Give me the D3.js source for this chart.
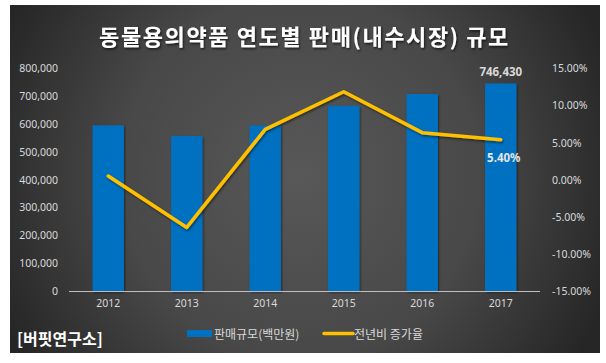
<!DOCTYPE html>
<html><head><meta charset="utf-8">
<script src="https://cdn.jsdelivr.net/npm/d3@7"></script>
<style>
html,body{margin:0;padding:0;background:#fff;}
svg{display:block;}
</style></head>
<body>
<script>
const years = ["2012","2013","2014","2015","2016","2017"];
const sales = [595650, 557350, 595250, 665900, 708190, 746430];
const growth = [0.5, -6.43, 6.8, 11.87, 6.35, 5.40];
const leftTicks = [0,100000,200000,300000,400000,500000,600000,700000,800000];
const rightTicks = [-15,-10,-5,0,5,10,15];
const title = "동물용의약품 연도별 판매(내수시장) 규모";
const seriesNames = ["판매규모(백만원)", "전년비 증가율"];
const source = "[버핏연구소]";

const W = 606, H = 363;
const svg = d3.select("body").append("svg").attr("width", W).attr("height", H);
const defs = svg.append("defs");
const rg = defs.append("radialGradient").attr("id","bg").attr("gradientUnits","userSpaceOnUse")
  .attr("cx",300).attr("cy",175).attr("r",330);
rg.append("stop").attr("offset","0%").attr("stop-color","#585858");
rg.append("stop").attr("offset","55%").attr("stop-color","#484848");
rg.append("stop").attr("offset","100%").attr("stop-color","#262626");
const f = defs.append("filter").attr("id","sh").attr("x","-20%").attr("y","-20%").attr("width","140%").attr("height","140%");
f.append("feDropShadow").attr("dx",1).attr("dy",1.5).attr("stdDeviation",1.2).attr("flood-color","#000").attr("flood-opacity",0.5);
const ft = defs.append("filter").attr("id","tsh").attr("x","-10%").attr("y","-30%").attr("width","120%").attr("height","160%");
ft.append("feDropShadow").attr("dx",1).attr("dy",1.5).attr("stdDeviation",1).attr("flood-color","#000").attr("flood-opacity",0.7);

svg.append("rect").attr("x",10).attr("y",5).attr("width",590).attr("height",348).attr("fill","url(#bg)");

const font = "'Noto Sans', 'Noto Sans CJK KR', sans-serif";
const kfont = "'Noto Sans CJK KR', sans-serif";

svg.append("text").attr("x",304.5).attr("y",35).attr("text-anchor","middle").attr("dominant-baseline","central")
  .attr("fill","#fff").attr("font-family",kfont).attr("font-weight","bold").attr("font-size",22)
  .attr("letter-spacing",1.6)
  .attr("filter","url(#tsh)").text(title);

const x = d3.scaleBand().domain(years).range([69,540]).paddingInner(0.6).paddingOuter(0.3);
const yL = d3.scaleLinear().domain([0,800000]).range([291,68.5]);
const yR = d3.scaleLinear().domain([-15,15]).range([291,68.5]);

const axL = svg.append("g").attr("transform","translate(58,0)")
  .call(d3.axisLeft(yL).tickValues(leftTicks).tickFormat(d3.format(",")).tickSize(0).tickPadding(0));
const axR = svg.append("g").attr("transform","translate(552,0)")
  .call(d3.axisRight(yR).tickValues(rightTicks).tickFormat(d=>d.toFixed(2)+"%").tickSize(0).tickPadding(0));
const axB = svg.append("g").attr("transform","translate(0,291)")
  .call(d3.axisBottom(x).tickSize(0).tickPadding(9));
[axL,axR,axB].forEach(a=>{
  a.select(".domain").remove();
  a.selectAll("text").attr("fill","#d9d9d9").attr("font-family",font).attr("font-size",10.5);
});

svg.append("g").selectAll("rect").data(years).join("rect")
  .attr("x",d=>x(d)).attr("width",x.bandwidth())
  .attr("y",(d,i)=>yL(sales[i])).attr("height",(d,i)=>yL(0)-yL(sales[i]))
  .attr("fill","#0070C0").attr("filter","url(#sh)");

svg.append("line").attr("x1",69).attr("x2",540).attr("y1",291.5).attr("y2",291.5)
  .attr("stroke","#bfbfbf").attr("stroke-width",1);

const line = d3.line().x((d,i)=>x(years[i])+x.bandwidth()/2).y(d=>yR(d));
svg.append("path").datum(growth).attr("d",line).attr("fill","none")
  .attr("stroke","#FFC000").attr("stroke-width",3.5).attr("stroke-linejoin","round").attr("stroke-linecap","round")
  .attr("filter","url(#sh)");

// data labels
const last = years.length-1;
svg.append("text").attr("x",x(years[last])+x.bandwidth()/2).attr("y",yL(sales[last])-12)
  .attr("text-anchor","middle").attr("dominant-baseline","central")
  .attr("fill","#d9d9d9").attr("font-family",font).attr("font-weight","bold").attr("font-size",11.5)
  .text(d3.format(",")(sales[last]));
svg.append("text").attr("x",x(years[last])+x.bandwidth()/2+3).attr("y",yR(growth[last])+18)
  .attr("text-anchor","middle").attr("dominant-baseline","central")
  .attr("fill","#e6e6e6").attr("font-family",font).attr("font-weight","bold").attr("font-size",11.5)
  .text(growth[last].toFixed(2)+"%");

// legend
svg.append("rect").attr("x",187).attr("y",330).attr("width",25).attr("height",7).attr("fill","#0070C0");
svg.append("text").attr("x",214).attr("y",333.5).attr("dominant-baseline","central")
  .attr("fill","#d9d9d9").attr("font-family",kfont).attr("font-size",12).text(seriesNames[0]);
svg.append("line").attr("x1",324).attr("x2",353).attr("y1",333.5).attr("y2",333.5)
  .attr("stroke","#FFC000").attr("stroke-width",3.5).attr("stroke-linecap","round");
svg.append("text").attr("x",354).attr("y",333.5).attr("dominant-baseline","central")
  .attr("fill","#d9d9d9").attr("font-family",kfont).attr("font-size",12).text(seriesNames[1]);

svg.append("text").attr("x",17).attr("y",338).attr("dominant-baseline","central")
  .attr("fill","#fff").attr("font-family",kfont).attr("font-weight","bold").attr("font-size",16)
  .text(source);
</script>
</body></html>
